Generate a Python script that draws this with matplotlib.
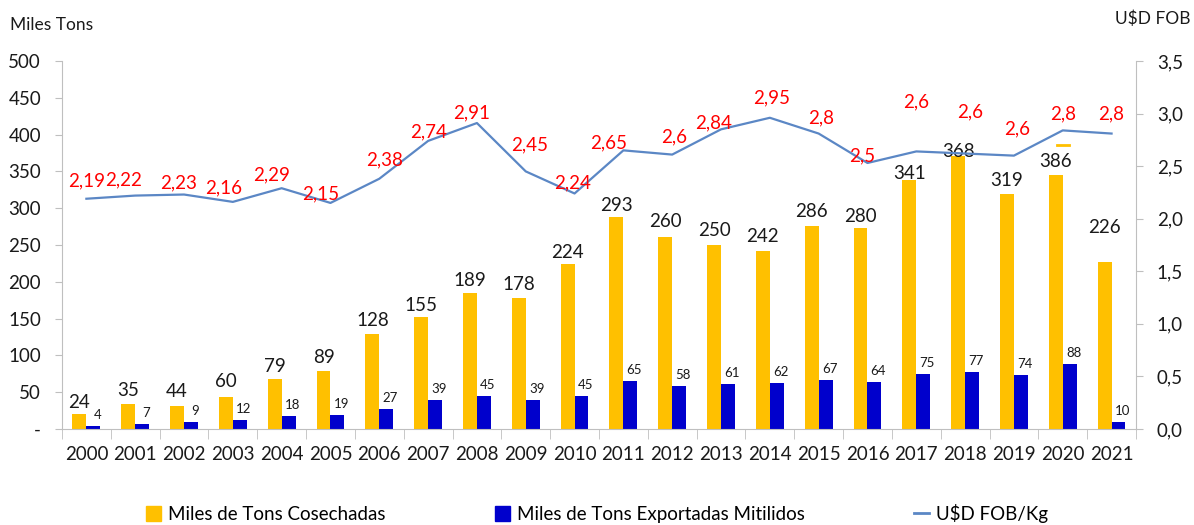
import matplotlib
matplotlib.use("Agg")
import matplotlib.pyplot as plt
import numpy as np
from matplotlib.lines import Line2D
from matplotlib.patches import Patch

years = [str(y) for y in range(2000, 2022)]
cosechadas = [20, 34, 31, 43, 68, 79, 129, 152, 185, 178, 224, 288, 261, 250, 242, 276, 273, 338, 371, 319, 345, 227]
cosechadas_labels = ["24", "35", "44", "60", "79", "89", "128", "155", "189", "178", "224", "293",
                     "260", "250", "242", "286", "280", "341", "368", "319", "386", "226"]
exportadas = [4, 7, 9, 12, 18, 19, 27, 39, 45, 39, 45, 65, 58, 61, 62, 67, 64, 75, 77, 74, 88, 10]
fob = [2.19, 2.22, 2.23, 2.16, 2.29, 2.15, 2.38, 2.74, 2.91, 2.45, 2.24, 2.65, 2.61, 2.85, 2.96,
       2.81, 2.53, 2.64, 2.62, 2.60, 2.84, 2.81]
fob_labels = ["2,19", "2,22", "2,23", "2,16", "2,29", "2,15", "2,38", "2,74", "2,91", "2,45", "2,24",
              "2,65", "2,6", "2,84", "2,95", "2,8", "2,5", "2,6", "2,6", "2,6", "2,8", "2,8"]
left_ticks = [0, 50, 100, 150, 200, 250, 300, 350, 400, 450, 500]
left_ticklabels = ["-", "50", "100", "150", "200", "250", "300", "350", "400", "450", "500"]
right_ticks = [0, 0.5, 1.0, 1.5, 2.0, 2.5, 3.0, 3.5]
right_ticklabels = ["0,0", "0,5", "1,0", "1,5", "2,0", "2,5", "3,0", "3,5"]

# label offsets (pixels)
fob_off = [(0, 18), (-12, 16), (-5, 12), (-9, 14), (-10, 13), (-10, 9), (5, 19), (0, 9), (-5, 10),
           (4, 27), (-2, 11), (-15, 7), (2, 18), (-7, 6), (2, 20), (2, 16), (-5, 7), (0, 50),
           (5, 42), (3, 27), (0, 17), (0, 20)]
cos_off = [12, 13, 15, 16, 12, 13, 14, 12, 12, 13, 12, 12, 15, 14, 14, 14, 12, 7, 4, 14, 14, 34]

YELLOW = "#FFC000"
BLUE = "#0000CC"
LINE = "#5B87C5"
GRAY = "#BFBFBF"

plt.rcParams["font.family"] = ["Lato", "DejaVu Sans"]

fig = plt.figure(figsize=(11.94, 5.25), dpi=100)
ax = fig.add_axes([0.0519, 0.1829, 0.8995, 0.7009])
ax2 = ax.twinx()

x = np.arange(len(years))
w = 0.285
b1 = ax.bar(x - w / 2, cosechadas, w, color=YELLOW, zorder=2)
b2 = ax.bar(x + w / 2, exportadas, w, color=BLUE, zorder=2)

# small dash on 2020
ax.plot([19.88, 20.12], [386, 386], color=YELLOW, lw=2, zorder=2)

for i, (v, lab, off) in enumerate(zip(cosechadas, cosechadas_labels, cos_off)):
    ax.annotate(lab, (x[i] - w / 2, v), xytext=(0, off), textcoords="offset pixels",
                ha="center", va="center", fontsize=13.5, color="#1a1a1a", zorder=5)
for i, v in enumerate(exportadas):
    ax.annotate(str(v), (x[i] + w / 2, v), xytext=(4, 11), textcoords="offset pixels",
                ha="center", va="center", fontsize=9.5, color="#1a1a1a", zorder=5)

ax2.plot(x, fob, color=LINE, lw=1.6, zorder=3)
for i, (v, lab, off) in enumerate(zip(fob, fob_labels, fob_off)):
    ax2.annotate(lab, (x[i], v), xytext=off, textcoords="offset pixels",
                 ha="center", va="center", fontsize=13.5, color="#FF0000", zorder=5)

ax.set_xlim(-0.5, len(years) - 0.5)
ax.set_ylim(0, 500)
ax2.set_ylim(0, 3.5)

ax.set_yticks(left_ticks)
ax.set_yticklabels(left_ticklabels)
ax2.set_yticks(right_ticks)
ax2.set_yticklabels(right_ticklabels)
ax.set_xticks(x)
ax.set_xticklabels(years)
ax.set_xticks(np.arange(-0.5, len(years)), minor=True)

for a in (ax, ax2):
    for s in ("top",):
        a.spines[s].set_visible(False)
    a.patch.set_visible(False)
ax.spines["right"].set_visible(False)
ax2.spines["left"].set_visible(False)
ax2.spines["bottom"].set_visible(False)
ax.spines["left"].set_color(GRAY)
ax.spines["bottom"].set_color(GRAY)
ax2.spines["right"].set_color(GRAY)

ax.tick_params(axis="y", labelsize=13.5, colors=GRAY, labelcolor="#1a1a1a", length=5, pad=10)
ax2.tick_params(axis="y", labelsize=13.5, colors=GRAY, labelcolor="#1a1a1a", length=5, pad=10)
ax.tick_params(axis="x", which="major", length=0, labelsize=13.5, labelcolor="#1a1a1a", pad=12)
ax.tick_params(axis="x", which="minor", length=7, color=GRAY)

fig.text(0.008, 0.952, "Miles Tons", fontsize=12.5, ha="left", va="center", color="#1a1a1a")
fig.text(0.997, 0.965, "U$D FOB", fontsize=12.5, ha="right", va="center", color="#1a1a1a")

handles = [Patch(color=YELLOW), Patch(color=BLUE), Line2D([0], [0], color=LINE, lw=2)]
labels = ["Miles de Tons Cosechadas", "Miles de Tons Exportadas Mitilidos", "U$D FOB/Kg"]
fig.legend(handles, labels, loc="center", bbox_to_anchor=(0.5, 0.022), ncol=3, frameon=False,
           fontsize=13.5, handlelength=0.8, handleheight=0.8, handletextpad=0.4, columnspacing=5.8)

fig.savefig("out.png", dpi=100)
